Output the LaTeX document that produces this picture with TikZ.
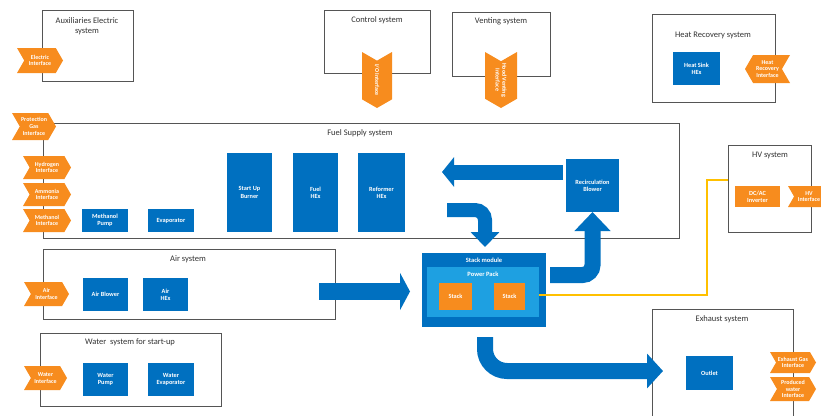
\documentclass[tikz,border=0pt]{standalone}
\usepackage{fontspec}
\setmainfont{Carlito}
\usetikzlibrary{shapes.symbols,arrows.meta}
\definecolor{cblue}{RGB}{0,112,192}
\definecolor{corange}{RGB}{247,140,30}
\definecolor{clight}{RGB}{30,160,225}
\definecolor{cyel}{RGB}{255,192,0}
\definecolor{cline}{RGB}{85,85,85}
\newcommand{\rbox}[7]{\node[#6, minimum width={#4-#2}, minimum height={#5-#3}] (#1) at ({(#2+#4)/2},{(#3+#5)/2}) {#7};}
\begin{document}
\begin{tikzpicture}[x=1pt,y=-1pt,
  sysbox/.style={draw=cline, line width=0.7pt, fill=white, inner sep=0pt, outer sep=0pt},
  systitle/.style={font=\fontsize{8.5}{10}\selectfont, text=black!80, align=center, inner sep=0pt},
  blubox/.style={fill=cblue, text=white, font=\fontsize{6.3}{7.3}\selectfont\bfseries, align=center, inner sep=0pt, outer sep=0pt},
  orabox/.style={fill=corange, text=white, font=\fontsize{6.3}{7.3}\selectfont\bfseries, align=center, inner sep=0pt, outer sep=0pt},
  tag/.style={signal, fill=corange, text=white, font=\fontsize{6}{6.8}\selectfont\bfseries, align=center, inner sep=0pt, outer sep=0pt, signal pointer angle=120},
  tagR/.style={tag, signal from=west, signal to=east},
  tagL/.style={tag, signal from=east, signal to=west},
  fat/.style={draw=cblue},
  whitetitle/.style={text=white, font=\fontsize{6.5}{7.5}\selectfont\bfseries, inner sep=0pt}
]
\useasboundingbox (0,0) rectangle (821,415);

% system boxes
\rbox{aux}{42}{10}{133}{81}{sysbox}{}
\node[systitle] (auxt) at (87,26) {Auxiliaries Electric\\system};
\rbox{ctrl}{324}{10}{430}{73}{sysbox}{}
\node[systitle] (ctrlt) at (377,20) {Control system};
\rbox{vent}{452}{12}{550}{76}{sysbox}{}
\node[systitle] (ventt) at (501,21) {Venting system};
\rbox{heat}{652}{14}{775}{102}{sysbox}{}
\node[systitle] (heatt) at (713,35) {Heat Recovery system};
\rbox{fuel}{43}{123}{679}{238}{sysbox}{}
\node[systitle] (fuelt) at (360,133) {Fuel Supply system};
\rbox{air}{43}{249}{335}{319}{sysbox}{}
\node[systitle] (airt) at (188,259) {Air system};
\rbox{water}{40}{333}{221}{406}{sysbox}{}
\node[systitle] (watert) at (130,342) {Water\ \ system for start-up};
\rbox{hv}{728}{145}{811}{232}{sysbox}{}
\node[systitle] (hvt) at (770,155) {HV system};
\rbox{exh}{652}{309}{793}{430}{sysbox}{}
\node[systitle] (exht) at (722,319) {Exhaust system};

% interface tags
\rbox{elec}{17}{48}{63}{73}{tagR}{Electric\\Interface}
\rbox{prot}{12}{113}{56}{140}{tagR}{Protection\\Gas\\Interface}
\rbox{hyd}{23}{156}{71}{179}{tagR}{Hydrogen\\Interface}
\rbox{amm}{23}{183}{71}{206}{tagR}{Ammonia\\Interface}
\rbox{meth}{23}{209}{71}{232}{tagR}{Methanol\\Interface}
\rbox{airif}{24}{282}{69}{306}{tagR}{Air\\Interface}
\rbox{watif}{24}{366}{67}{390}{tagR}{Water\\Interface}
\rbox{heatif}{745}{55}{790}{83}{tagL}{Heat\\Recovery\\Interface}
\rbox{hvif}{788}{186}{830}{207}{tagR}{HV\\Interface}
\rbox{exgas}{770}{352}{816}{373}{tagR}{Exhaust Gas\\Interface}
\rbox{prodw}{770}{377}{816}{401}{tagR}{Produced\\water\\Interface}
\node[tagR, rotate=-90, minimum width=56, minimum height=30] (ctrlif) at (377,80) {I/O Interface};
\node[tagR, rotate=-90, minimum width=56, minimum height=32] (ventif) at (501,80) {Hood Venting\\Interface};

% blue component boxes
\rbox{hsink}{673}{52}{720}{85}{blubox}{Heat Sink\\HEx}
\rbox{mpump}{82}{209}{128}{232}{blubox}{Methanol\\Pump}
\rbox{evap}{148}{209}{194}{232}{blubox}{Evaporator}
\rbox{burner}{227}{153}{272}{232}{blubox}{Start Up\\Burner}
\rbox{fhex}{293}{153}{338}{232}{blubox}{Fuel\\HEx}
\rbox{rhex}{358}{153}{405}{232}{blubox}{Reformer\\HEx}
\rbox{blower}{566}{159}{619}{212}{blubox}{Recirculation\\Blower}
\rbox{ablow}{83}{278}{128}{311}{blubox}{Air Blower}
\rbox{ahex}{143}{278}{188}{311}{blubox}{Air\\HEx}
\rbox{wpump}{83}{363}{128}{396}{blubox}{Water\\Pump}
\rbox{wevap}{148}{363}{194}{396}{blubox}{Water\\Evaporator}
\rbox{outlet}{686}{356}{733}{390}{blubox}{Outlet}
\rbox{dcac}{735}{186}{780}{207}{orabox}{DC/AC\\Inverter}

% stack module
\rbox{stackmod}{422}{253}{546}{327}{blubox}{}
\node[whitetitle] (stackmodt) at (484,260) {Stack module};
\rbox{pp}{427}{267}{539}{317}{blubox,fill=clight}{}
\node[whitetitle] (ppt) at (483,274) {Power Pack};
\rbox{stack1}{439}{283}{472}{310}{orabox}{Stack}
\rbox{stack2}{494}{283}{525}{310}{orabox}{Stack}

% connectors
\coordinate (y1) at (539,295);
\coordinate (y2) at (707,180);
\coordinate (y3) at (728,180);
\draw[cyel, line width=1.4pt] (y1) -| (y2) -- (y3);

\coordinate (l1) at (563,172);
\coordinate (l2) at (442,172);
\draw[fat, line width=15pt, -{Triangle[width=29pt,length=12pt]}] (l1) -- (l2);

\coordinate (d1) at (447,210);
\coordinate (d2) at (485,247);
\draw[fat, line width=14pt, rounded corners=10pt, -{Triangle[width=28pt,length=15pt]}] (d1) -| (d2);

\coordinate (u1) at (550,275);
\draw[fat, line width=16pt, rounded corners=10pt, -{Triangle[width=35pt,length=19pt]}] (u1) -| (blower.south);

\coordinate (a1) at (319,291.5);
\coordinate (a2) at (410,291.5);
\draw[fat, line width=17pt, -{Triangle[width=37pt,length=10pt]}] (a1) -- (a2);

\coordinate (e1) at (485,337);
\coordinate (e2) at (663,371);
\draw[fat, line width=16pt, rounded corners=22pt, -{Triangle[width=34pt,length=16pt]}] (e1) |- (e2);
\end{tikzpicture}
\end{document}
